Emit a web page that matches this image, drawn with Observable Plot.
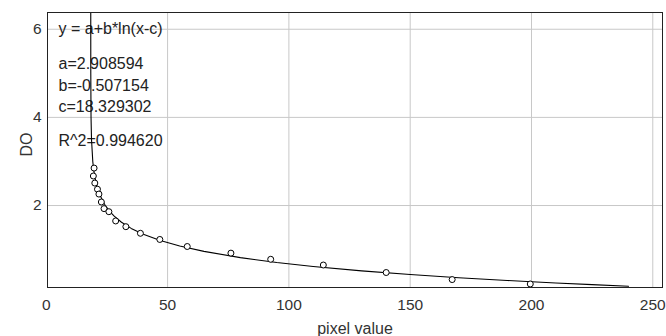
<!DOCTYPE html>
<html>
<head>
<meta charset="utf-8">
<script src="https://cdn.jsdelivr.net/npm/d3@7"></script>
<script src="https://cdn.jsdelivr.net/npm/@observablehq/plot@0.6"></script>
<style>
  html, body { margin: 0; padding: 0; background: #fff; }
  #chart { width: 666px; height: 336px; }
</style>
</head>
<body>
<div id="chart"></div>
<script>
// Observed data points (pixel value, DO)
const pointX = [19.7, 19.4, 20.0, 21.1, 21.7, 22.7, 23.8, 25.8, 28.6, 32.8, 38.8, 46.8, 58.1, 76.1, 92.5, 114.2, 140.1, 167.3, 199.5];
const pointY = [2.85, 2.67, 2.51, 2.37, 2.26, 2.08, 1.93, 1.86, 1.65, 1.52, 1.37, 1.23, 1.07, 0.92, 0.78, 0.65, 0.48, 0.32, 0.22];

// Fitted curve
const curveX = [18.33, 18.345, 18.446, 18.641, 19.164, 19.5, 20, 21, 22, 24, 26, 28, 31, 35, 40, 47, 55, 65, 80, 95, 110, 130, 150, 170, 190, 210, 225, 240];
const curveY = [6.4, 5.0, 4.0, 3.5, 3.0, 2.828, 2.648, 2.410, 2.249, 2.029, 1.875, 1.758, 1.621, 1.481, 1.349, 1.207, 1.082, 0.960, 0.818, 0.708, 0.617, 0.517, 0.434, 0.362, 0.299, 0.243, 0.205, 0.169];

const xTicks = [0, 50, 100, 150, 200, 250];
const yTicks = [2, 4, 6];
const xLabel = "pixel value";
const yLabel = "DO";
const fitLines = ["y = a+b*ln(x-c)", "a=2.908594", "b=-0.507154", "c=18.329302", "R^2=0.994620"];

const points = pointX.map((x, i) => ({x, y: pointY[i]}));
const curve = curveX.map((x, i) => ({x, y: curveY[i]}));
const fitOffsets = [16.5, 51, 73, 94.5, 128];

const chart = Plot.plot({
  width: 666,
  height: 336,
  marginLeft: 47,
  marginRight: 4,
  marginTop: 12,
  marginBottom: 49,
  style: {fontFamily: "'Liberation Sans', Arial, sans-serif", fontSize: "16px", color: "#333", background: "#fff", overflow: "visible"},
  x: {domain: [0.5, 254]},
  y: {domain: [0.14, 6.38]},
  marks: [
    Plot.gridX(xTicks.filter(d => d > 0), {stroke: "#c8c8c8", strokeOpacity: 1}),
    Plot.gridY(yTicks, {stroke: "#c8c8c8", strokeOpacity: 1}),
    Plot.axisX(xTicks, {tickSize: 0, tickPadding: 11, fontSize: 15.5, label: null, fill: "#333"}),
    Plot.axisY(yTicks, {tickSize: 0, tickPadding: 6, fontSize: 15.5, label: null, fill: "#333"}),
    Plot.text([xLabel], {text: d => d, frameAnchor: "bottom", dy: 46, lineAnchor: "bottom", fill: "#333"}),
    Plot.text([yLabel], {text: d => d, frameAnchor: "left", rotate: -90, dx: -20.5, dy: 6.5, lineAnchor: "middle", fill: "#333"}),
    ...fitLines.map((t, i) => Plot.text([t], {text: d => d, frameAnchor: "top-left", dx: 11, dy: fitOffsets[i], textAnchor: "start", lineAnchor: "middle", fill: "#222"})),
    Plot.line(curve, {x: "x", y: "y", stroke: "#000", strokeWidth: 1.1, clip: true}),
    Plot.dot(points, {x: "x", y: "y", r: 3, stroke: "#000", fill: "#fff", strokeWidth: 1}),
    Plot.frame({stroke: "#222", strokeWidth: 1})
  ]
});
document.getElementById("chart").appendChild(chart);
</script>
</body>
</html>
